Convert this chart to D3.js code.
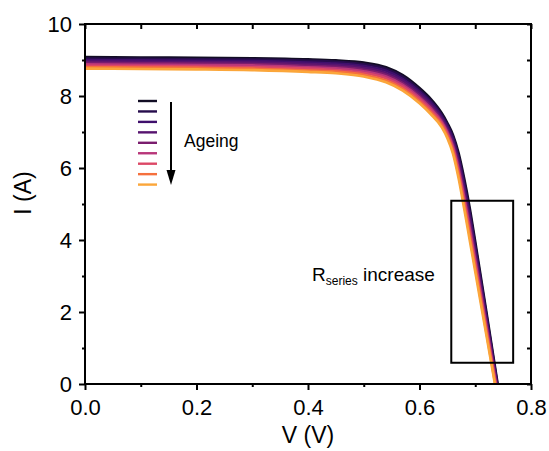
<!DOCTYPE html>
<html>
<head>
<meta charset="utf-8">
<script src="https://cdn.jsdelivr.net/npm/d3@7"></script>
<style>
  html, body { margin: 0; padding: 0; background: #fff; }
  svg { display: block; font-family: "Liberation Sans", Arial, sans-serif; }
</style>
</head>
<body>
<div id="chart"></div>
<script>
// ── Data ─────────────────────────────────────────────────────────────────────
const V = [0, 0.1, 0.2, 0.3, 0.4, 0.45, 0.5, 0.54, 0.57, 0.6, 0.62, 0.64, 0.65, 0.66, 0.67, 0.68, 0.69, 0.70, 0.72, 0.74, 0.75];

// one I array per ageing step, fresh → aged
const I_0 = [9.08, 9.07, 9.06, 9.05, 9.02, 8.99, 8.93, 8.80, 8.58, 8.22, 7.92, 7.52, 7.25, 6.92, 6.42, 5.72, 4.90, 3.95, 2.00,  0.02, -1.00];
const I_1 = [9.04, 9.03, 9.02, 9.01, 8.98, 8.95, 8.88, 8.75, 8.53, 8.17, 7.87, 7.47, 7.20, 6.86, 6.33, 5.62, 4.79, 3.85, 1.92, -0.04, -1.04];
const I_2 = [9.00, 8.99, 8.98, 8.97, 8.93, 8.90, 8.83, 8.70, 8.47, 8.12, 7.82, 7.42, 7.15, 6.79, 6.25, 5.51, 4.68, 3.74, 1.84, -0.09, -1.08];
const I_3 = [8.96, 8.95, 8.94, 8.93, 8.89, 8.86, 8.78, 8.64, 8.42, 8.06, 7.76, 7.37, 7.09, 6.73, 6.16, 5.41, 4.56, 3.64, 1.76, -0.15, -1.11];
const I_4 = [8.92, 8.91, 8.90, 8.89, 8.84, 8.81, 8.73, 8.59, 8.36, 8.01, 7.71, 7.32, 7.04, 6.66, 6.07, 5.30, 4.45, 3.54, 1.68, -0.20, -1.15];
const I_5 = [8.88, 8.87, 8.86, 8.85, 8.80, 8.77, 8.69, 8.54, 8.31, 7.96, 7.66, 7.28, 6.99, 6.60, 5.98, 5.20, 4.34, 3.43, 1.59, -0.26, -1.19];
const I_6 = [8.84, 8.83, 8.82, 8.80, 8.76, 8.72, 8.64, 8.49, 8.26, 7.91, 7.61, 7.23, 6.94, 6.53, 5.90, 5.09, 4.23, 3.33, 1.51, -0.31, -1.23];
const I_7 = [8.80, 8.79, 8.78, 8.76, 8.71, 8.68, 8.59, 8.43, 8.20, 7.85, 7.55, 7.18, 6.88, 6.47, 5.81, 4.99, 4.11, 3.22, 1.43, -0.37, -1.26];
const I_8 = [8.76, 8.75, 8.74, 8.72, 8.67, 8.63, 8.54, 8.38, 8.15, 7.80, 7.50, 7.13, 6.83, 6.40, 5.72, 4.88, 4.00, 3.12, 1.35, -0.42, -1.30];
const SERIES = [I_0, I_1, I_2, I_3, I_4, I_5, I_6, I_7, I_8];

const X_TICKS = [0, 0.2, 0.4, 0.6, 0.8];
const Y_TICKS = [0, 2, 4, 6, 8, 10];
const X_MINOR = [0.1, 0.3, 0.5, 0.7];
const Y_MINOR = [1, 3, 5, 7, 9];

const BOX_V = [0.657, 0.768];   // "R series increase" box
const BOX_I = [0.59, 5.09];

// ── Style ────────────────────────────────────────────────────────────────────
const COLORS = ["#120d24", "#260c4c", "#3f0f6c", "#57146f", "#7a1d6e", "#b8367a", "#dc4866", "#f5703d", "#fba63a"];

// ── Dimensions ───────────────────────────────────────────────────────────────
const W = 549, H = 451;
const margin = { top: 24, right: 18, bottom: 67, left: 85 };
const width  = W - margin.left - margin.right;   // 446
const height = H - margin.top  - margin.bottom;  // 360

const svg = d3.select("#chart").append("svg")
  .attr("width", W).attr("height", H);

const g = svg.append("g")
  .attr("transform", `translate(${margin.left},${margin.top})`);

// ── Scales ───────────────────────────────────────────────────────────────────
const x = d3.scaleLinear().domain([0, 0.8]).range([0, width]);
const y = d3.scaleLinear().domain([0, 10]).range([height, 0]);

g.append("clipPath").attr("id", "plot-clip")
  .append("rect").attr("width", width).attr("height", height);

// ── Curves ───────────────────────────────────────────────────────────────────
const line = d3.line()
  .x((d, i) => x(V[i]))
  .y(d => y(d))
  .curve(d3.curveMonotoneX);

const curves = g.append("g").attr("clip-path", "url(#plot-clip)");
SERIES.forEach((s, k) => {
  curves.append("path")
    .datum(s)
    .attr("d", line)
    .attr("fill", "none")
    .attr("stroke", COLORS[k])
    .attr("stroke-width", 2.6);
});

// ── Axes ─────────────────────────────────────────────────────────────────────
function styleAxis(sel) {
  sel.select(".domain").remove();
  sel.selectAll("line").attr("stroke", "#000").attr("stroke-width", 2);
  sel.selectAll("text").attr("fill", "#000").style("font-size", "22px")
    .style("font-family", "Liberation Sans, Arial, sans-serif");
}

g.append("g").attr("transform", `translate(0,${height})`)
  .call(d3.axisBottom(x).tickValues(X_TICKS).tickSize(6).tickPadding(9)
    .tickFormat(d3.format(".1f")))
  .call(styleAxis);

g.append("g").attr("transform", `translate(0,${height})`)
  .call(d3.axisBottom(x).tickValues(X_MINOR).tickSize(3).tickFormat(""))
  .call(styleAxis);

g.append("g")
  .call(d3.axisLeft(y).tickValues(Y_TICKS).tickSize(6).tickPadding(7)
    .tickFormat(d3.format("d")))
  .call(styleAxis);

g.append("g")
  .call(d3.axisLeft(y).tickValues(Y_MINOR).tickSize(3).tickFormat(""))
  .call(styleAxis);

// mirror ticks, pointing inward
g.append("g")
  .call(d3.axisBottom(x).tickValues(X_TICKS.concat(X_MINOR)).tickSize(5).tickFormat(""))
  .call(styleAxis);

g.append("g").attr("transform", `translate(${width},0)`)
  .call(d3.axisLeft(y).tickValues(Y_TICKS.concat(Y_MINOR)).tickSize(4).tickFormat(""))
  .call(styleAxis);

// frame
g.append("rect")
  .attr("width", width).attr("height", height)
  .attr("fill", "none").attr("stroke", "#000").attr("stroke-width", 2);

// axis titles
g.append("text")
  .attr("x", width / 2).attr("y", height + 59)
  .attr("text-anchor", "middle")
  .style("font-size", "23px")
  .text("V (V)");

svg.append("text")
  .attr("transform", `translate(31,193) rotate(-90)`)
  .attr("text-anchor", "middle")
  .style("font-size", "23px")
  .text("I (A)");

// ── Annotation box ───────────────────────────────────────────────────────────
g.append("rect")
  .attr("x", x(BOX_V[0])).attr("y", y(BOX_I[1]))
  .attr("width", x(BOX_V[1]) - x(BOX_V[0]))
  .attr("height", y(BOX_I[0]) - y(BOX_I[1]))
  .attr("fill", "none").attr("stroke", "#000").attr("stroke-width", 2);

const rt = svg.append("text")
  .attr("x", 312).attr("y", 281)
  .style("font-size", "19px");
rt.append("tspan").text("R");
rt.append("tspan").attr("dy", 4).style("font-size", "12px").text("series");
rt.append("tspan").attr("dy", -4).text(" increase");

// ── Ageing legend ────────────────────────────────────────────────────────────
const legend = svg.append("g").attr("transform", "translate(138,101)");
COLORS.forEach((c, k) => {
  legend.append("line")
    .attr("x1", 0).attr("x2", 19)
    .attr("y1", k * 10.45).attr("y2", k * 10.45)
    .attr("stroke", c).attr("stroke-width", 2.4);
});

svg.append("line")
  .attr("x1", 171).attr("x2", 171)
  .attr("y1", 102).attr("y2", 172)
  .attr("stroke", "#000").attr("stroke-width", 2);
svg.append("path")
  .attr("d", "M166.5,170 L175.5,170 L171,185 Z")
  .attr("fill", "#000");

svg.append("text")
  .attr("x", 184).attr("y", 147)
  .style("font-size", "17.5px")
  .text("Ageing");
</script>
</body>
</html>
